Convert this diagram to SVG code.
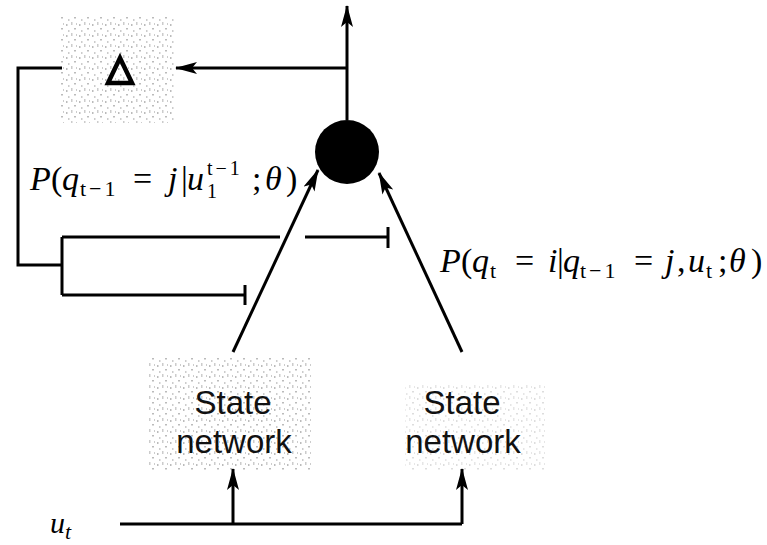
<svg xmlns="http://www.w3.org/2000/svg" width="767" height="545" viewBox="0 0 767 545">
<style>
.ln{stroke:#000;stroke-width:3;fill:none}
.math{font-family:"Liberation Serif",serif;font-size:34px;fill:#000}
.it{font-style:italic}
.sub{font-size:22px;letter-spacing:3px}
.sm{font-size:20px}
.lbl{font-family:"Liberation Sans",Arial,sans-serif;font-size:33px;fill:#111;text-anchor:middle}
</style>
<defs>
<marker id="ah" viewBox="0 0 22 12" refX="21" refY="6" markerWidth="22" markerHeight="12" markerUnits="userSpaceOnUse" orient="auto">
<path d="M0,0 L22,6 L0,12 L5,6 Z" fill="#000"/>
</marker>
<pattern id="stip" width="13" height="11" patternUnits="userSpaceOnUse">
<rect x="1" y="2" width="1.5" height="2" fill="#bbb"/>
<rect x="6" y="0" width="1.5" height="3" fill="#ccc"/>
<rect x="9" y="6" width="2" height="1.5" fill="#bbb"/>
<rect x="3" y="8" width="1.5" height="2" fill="#ccc"/>
<rect x="11" y="1" width="1" height="2" fill="#ccc"/>
</pattern>
</defs>
<g id="delta">
<rect x="60" y="15" width="115" height="108" fill="url(#stip)"/>
<path d="M108,83 L120,58 L132,83 Z" fill="none" stroke="#000" stroke-width="4.5" stroke-linejoin="miter"/>
</g>
<g id="product">
<circle cx="347" cy="152" r="32" fill="#000"/>
</g>
<g id="stateLeft">
<rect x="148" y="358" width="165" height="112" fill="url(#stip)"/>
<text class="lbl" x="233" y="414">State</text>
<text class="lbl" x="234" y="453">network</text>
</g>
<g id="stateRight">
<rect x="405" y="385" width="140" height="85" fill="url(#stip)" opacity="0.5"/>
<text class="lbl" x="462" y="414">State</text>
<text class="lbl" x="463" y="453">network</text>
</g>
<g id="connectors">
<line class="ln" x1="347" y1="120" x2="347" y2="6" marker-end="url(#ah)"/>
<line class="ln" x1="347" y1="68" x2="176" y2="68" marker-end="url(#ah)"/>
<polyline class="ln" points="62,68 18,68 18,265 62,265"/>
<line class="ln" x1="62" y1="237" x2="62" y2="295"/>
<line class="ln" x1="62" y1="237" x2="280" y2="237"/>
<line class="ln" x1="305" y1="237" x2="388" y2="237"/>
<line class="ln" x1="388" y1="227" x2="388" y2="248"/>
<line class="ln" x1="62" y1="295" x2="245" y2="295"/>
<line class="ln" x1="245" y1="285" x2="245" y2="305"/>
<line class="ln" x1="233" y1="352" x2="318" y2="170" marker-end="url(#ah)"/>
<line class="ln" x1="462" y1="352" x2="379" y2="173" marker-end="url(#ah)"/>
<polyline class="ln" points="120,524 462,524"/>
<line class="ln" x1="233" y1="524" x2="233" y2="469" marker-end="url(#ah)"/>
<line class="ln" x1="462" y1="524" x2="462" y2="469" marker-end="url(#ah)"/>
</g>
<g id="labels">
<text class="math" y="190"><tspan class="it" x="30">P</tspan><tspan x="51">(</tspan><tspan class="it" x="62">q</tspan><tspan class="sub" x="80" y="196">t−1</tspan><tspan x="133" y="190">=</tspan><tspan class="it" x="168">j</tspan><tspan x="181">|</tspan><tspan class="it" x="187">u</tspan><tspan class="sub sm" x="207" y="198">1</tspan><tspan class="sub sm" x="207" y="175">t−1</tspan><tspan x="252" y="190">;</tspan><tspan class="it" x="265">θ</tspan><tspan x="286">)</tspan></text>
<text class="math" y="272"><tspan class="it" x="440">P</tspan><tspan x="461">(</tspan><tspan class="it" x="472">q</tspan><tspan class="sub" x="490" y="278">t</tspan><tspan x="515" y="272">=</tspan><tspan class="it" x="548">i</tspan><tspan x="557">|</tspan><tspan class="it" x="563">q</tspan><tspan class="sub" x="580" y="278">t−1</tspan><tspan x="634" y="272">=</tspan><tspan class="it" x="665">j</tspan><tspan x="677">,</tspan><tspan class="it" x="688">u</tspan><tspan class="sub" x="706" y="278">t</tspan><tspan x="718" y="272">;</tspan><tspan class="it" x="729">θ</tspan><tspan x="751">)</tspan></text>
<text class="math it" x="50" y="533" style="font-size:30px">u<tspan class="sub" dy="6">t</tspan></text>
</g>
</svg>
